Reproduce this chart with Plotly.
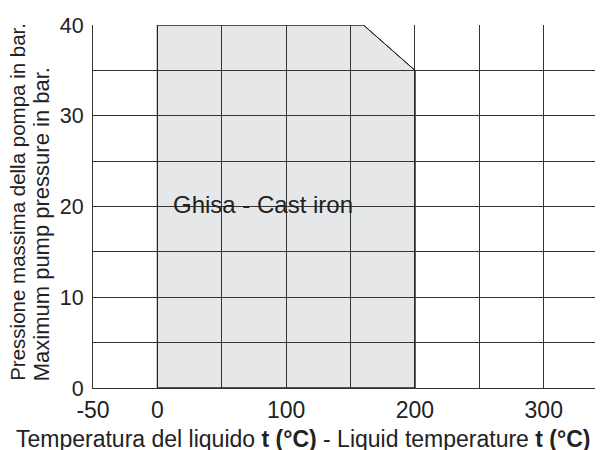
import plotly.graph_objects as go

# Data
region_x = [0, 0, 160, 200, 200, 0]
region_y = [0, 40, 40, 35, 0, 0]
region_label = "Ghisa - Cast iron"
x_tickvals = [-50, 0, 50, 100, 150, 200, 250, 300, 350]
x_ticktext = ["-50", "0", "", "100", "", "200", "", "300", ""]
y_tickvals = [0, 5, 10, 15, 20, 25, 30, 35, 40]
y_ticktext = ["0", "", "10", "", "20", "", "30", "", "40"]
y_title_it = "Pressione massima della pompa in bar."
y_title_en = "Maximum pump pressure in bar."
x_title = "Temperatura del liquido <b>t (°C)</b> - Liquid temperature <b>t (°C)</b>"

FONT = "Arial, Liberation Sans, sans-serif"
OFF = 8  # default page body margin in the exported html
W, H = 603 - OFF, 450 - OFF
L, R, T = 93 - OFF, 0, 24.5 - OFF
B = H - (387.7 - OFF)

fig = go.Figure()
# filled region below the gridlines
path = "M " + " L ".join(f"{x},{y}" for x, y in zip(region_x, region_y)) + " Z"
fig.add_shape(type="path", path=path, xref="x", yref="y", layer="below",
              fillcolor="#e6e7e9", line=dict(color="#222222", width=1))
fig.add_trace(go.Scatter(
    x=region_x, y=region_y, mode="lines",
    line=dict(color="#222222", width=1),
    hoverinfo="skip", showlegend=False))
fig.add_trace(go.Scatter(
    x=[82], y=[20], mode="text", text=[region_label],
    textfont=dict(family=FONT, size=24, color="#222222"),
    textposition="middle center", showlegend=False, hoverinfo="skip"))

fig.update_layout(
    width=W, height=H,
    margin=dict(l=L, r=R, t=T, b=B, autoexpand=False),
    paper_bgcolor="white", plot_bgcolor="white",
    font=dict(family=FONT, size=21, color="#222222"),
    xaxis=dict(range=[-50, 346], tickvals=x_tickvals, ticktext=x_ticktext,
               showgrid=True, gridcolor="#333333", gridwidth=1,
               zeroline=False, showline=True, linecolor="#333333", linewidth=1,
               ticks="", tickfont=dict(size=23), ticklabelstandoff=1,
               layer="above traces"),
    yaxis=dict(range=[0, 40], tickvals=y_tickvals, ticktext=y_ticktext,
               showgrid=True, gridcolor="#333333", gridwidth=1,
               zeroline=False, showline=True, linecolor="#333333", linewidth=1,
               ticks="", tickfont=dict(size=21.5), ticklabelstandoff=4,
               layer="above traces"),
)

plot_w = W - L - R
plot_h = H - T - B
def px_x(page_x):
    return (page_x - OFF - L) / plot_w
def px_y(page_y):
    return (H - B - (page_y - OFF)) / plot_h

fig.add_annotation(text=y_title_it, textangle=-90, xref="paper", yref="paper",
                   x=px_x(17.5), y=px_y(383), xanchor="center", yanchor="bottom",
                   showarrow=False, font=dict(size=20.5, family=FONT, color="#222222"))
fig.add_annotation(text=y_title_en, textangle=-90, xref="paper", yref="paper",
                   x=px_x(41), y=px_y(383), xanchor="center", yanchor="bottom",
                   showarrow=False, font=dict(size=22, family=FONT, color="#222222"))
fig.add_annotation(text=x_title, xref="paper", yref="paper",
                   x=px_x(303), y=px_y(438.5), xanchor="center", yanchor="middle",
                   showarrow=False, font=dict(size=23, family=FONT, color="#222222"))

fig.write_html("out.html")
